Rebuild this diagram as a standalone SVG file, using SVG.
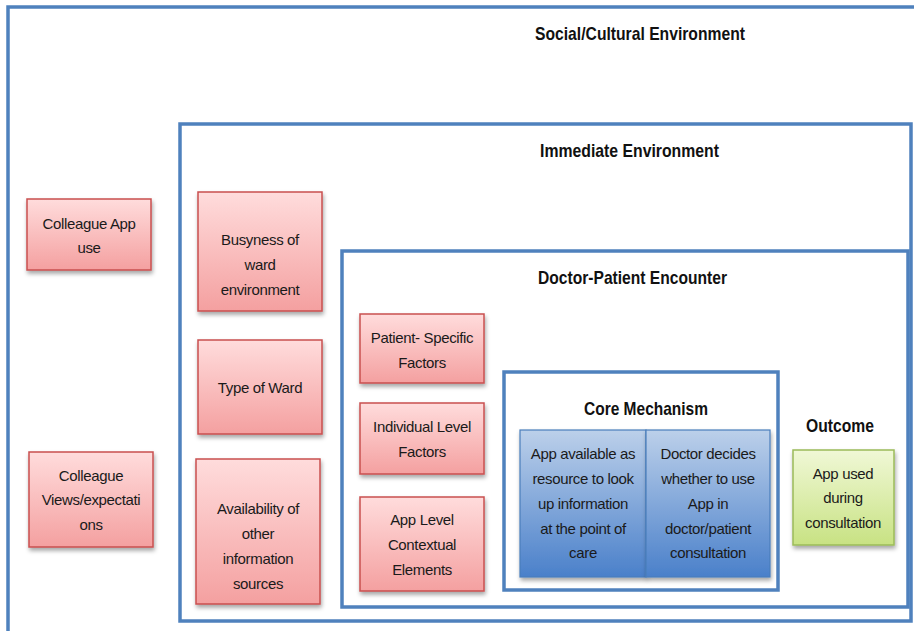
<svg xmlns="http://www.w3.org/2000/svg" width="914" height="631" viewBox="0 0 914 631">
  <defs>
    <linearGradient id="gRed" x1="0" y1="0" x2="0" y2="1">
      <stop offset="0" stop-color="#FFDCDC"/>
      <stop offset="1" stop-color="#F4A0A0"/>
    </linearGradient>
    <linearGradient id="gBlue" x1="0" y1="0" x2="0" y2="1">
      <stop offset="0" stop-color="#BCD0EA"/>
      <stop offset="1" stop-color="#4A80CA"/>
    </linearGradient>
    <linearGradient id="gGreen" x1="0" y1="0" x2="0" y2="1">
      <stop offset="0" stop-color="#F0F8D6"/>
      <stop offset="1" stop-color="#C8E283"/>
    </linearGradient>
    <filter id="shadow" x="-10%" y="-10%" width="125%" height="130%">
      <feDropShadow dx="1" dy="3" stdDeviation="2" flood-color="#000" flood-opacity="0.35"/>
    </filter>
  </defs>
  <style>
    .frame { fill: none; stroke: #4F81BD; stroke-width: 3.5; }
    .red { fill: url(#gRed); stroke: #C9504F; stroke-width: 1.5; filter: url(#shadow); }
    .blue { fill: url(#gBlue); stroke: #4A7EBB; stroke-width: 1.2; filter: url(#shadow); }
    .green { fill: url(#gGreen); stroke: #9BBB59; stroke-width: 1.5; filter: url(#shadow); }
    .title { font-family: "Liberation Sans", Arial, sans-serif; font-weight: bold; font-size: 19px; fill: #111; text-anchor: middle; }
    .lbl { font-family: "Liberation Sans", Arial, sans-serif; font-size: 15px; letter-spacing: -0.35px; fill: #1a1a1a; text-anchor: middle; }
  </style>
  <rect width="914" height="631" fill="#fff"/>

  <!-- nested environment frames -->
  <g id="social-cultural-environment">
    <rect class="frame" x="8" y="7" width="920" height="640"/>
    <text class="title" x="640" y="40" textLength="210" lengthAdjust="spacingAndGlyphs">Social/Cultural Environment</text>
  </g>
  <g id="immediate-environment">
    <rect class="frame" x="180" y="124" width="731" height="497"/>
    <text class="title" x="629.5" y="157" textLength="179" lengthAdjust="spacingAndGlyphs">Immediate Environment</text>
  </g>
  <g id="doctor-patient-encounter">
    <rect class="frame" x="342" y="251" width="566" height="356"/>
    <text class="title" x="632.5" y="284" textLength="189" lengthAdjust="spacingAndGlyphs">Doctor-Patient Encounter</text>
  </g>
  <g id="core-mechanism">
    <rect class="frame" x="504" y="372" width="274" height="218"/>
    <text class="title" x="646" y="415" textLength="124" lengthAdjust="spacingAndGlyphs">Core Mechanism</text>
  </g>

  <!-- social/cultural factors -->
  <g id="colleague-app-use">
    <rect class="red" x="27" y="199" width="124" height="71"/>
    <text class="lbl" x="89" y="229">Colleague App</text>
    <text class="lbl" x="89" y="253">use</text>
  </g>
  <g id="colleague-views">
    <rect class="red" x="29" y="452" width="124" height="95"/>
    <text class="lbl" x="91" y="481">Colleague</text>
    <text class="lbl" x="91" y="505">Views/expectati</text>
    <text class="lbl" x="91" y="530">ons</text>
  </g>

  <!-- immediate environment factors -->
  <g id="busyness">
    <rect class="red" x="198" y="192" width="124" height="119"/>
    <text class="lbl" x="260" y="245">Busyness of</text>
    <text class="lbl" x="260" y="270">ward</text>
    <text class="lbl" x="260" y="295">environment</text>
  </g>
  <g id="type-of-ward">
    <rect class="red" x="198" y="340" width="124" height="94"/>
    <text class="lbl" x="260" y="393">Type of Ward</text>
  </g>
  <g id="availability">
    <rect class="red" x="196" y="459" width="124" height="145"/>
    <text class="lbl" x="258" y="514">Availability of</text>
    <text class="lbl" x="258" y="539">other</text>
    <text class="lbl" x="258" y="564">information</text>
    <text class="lbl" x="258" y="589">sources</text>
  </g>

  <!-- encounter factors -->
  <g id="patient-specific">
    <rect class="red" x="360" y="314" width="124" height="69"/>
    <text class="lbl" x="422" y="343">Patient- Specific</text>
    <text class="lbl" x="422" y="368">Factors</text>
  </g>
  <g id="individual-level">
    <rect class="red" x="360" y="403" width="124" height="71"/>
    <text class="lbl" x="422" y="432">Individual Level</text>
    <text class="lbl" x="422" y="457">Factors</text>
  </g>
  <g id="app-level">
    <rect class="red" x="360" y="497" width="124" height="94"/>
    <text class="lbl" x="422" y="525">App Level</text>
    <text class="lbl" x="422" y="550">Contextual</text>
    <text class="lbl" x="422" y="575">Elements</text>
  </g>

  <!-- core mechanism steps -->
  <g id="app-available">
    <rect class="blue" x="520" y="430" width="126" height="147"/>
    <text class="lbl" x="583" y="459">App available as</text>
    <text class="lbl" x="583" y="484">resource to look</text>
    <text class="lbl" x="583" y="509">up information</text>
    <text class="lbl" x="583" y="534">at the point of</text>
    <text class="lbl" x="583" y="558">care</text>
  </g>
  <g id="doctor-decides">
    <rect class="blue" x="646" y="430" width="124" height="147"/>
    <text class="lbl" x="708" y="459">Doctor decides</text>
    <text class="lbl" x="708" y="484">whether to use</text>
    <text class="lbl" x="708" y="509">App in</text>
    <text class="lbl" x="708" y="534">doctor/patient</text>
    <text class="lbl" x="708" y="558">consultation</text>
  </g>

  <!-- outcome -->
  <g id="outcome">
    <text class="title" x="840" y="432" textLength="68" lengthAdjust="spacingAndGlyphs">Outcome</text>
    <rect class="green" x="793" y="450" width="101" height="95"/>
    <text class="lbl" x="843" y="479">App used</text>
    <text class="lbl" x="843" y="503">during</text>
    <text class="lbl" x="843" y="528">consultation</text>
  </g>
</svg>
